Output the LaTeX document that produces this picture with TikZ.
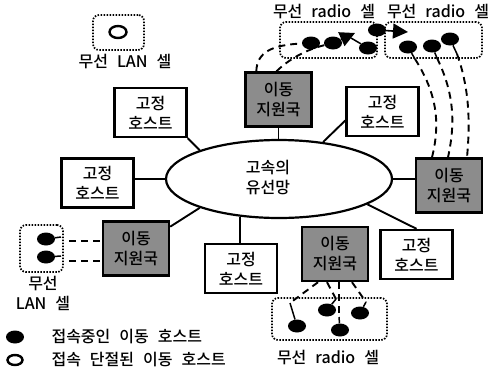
\documentclass[tikz,border=0pt]{standalone}
\usepackage{fontspec}
\setmainfont[WordSpace=2.5, BoldFont={Noto Sans CJK KR Medium}]{Noto Sans CJK KR}
\usetikzlibrary{arrows.meta, shapes.geometric, positioning}

\begin{document}
\begin{tikzpicture}[x=1pt, y=-1pt,
    every node/.style={font=\fontsize{16}{20}\selectfont\bfseries},
    fixed/.style={draw, line width=2.4pt, fill=white, align=center,
                  minimum width=72pt, minimum height=49pt, inner sep=2pt},
    mss/.style  ={draw, line width=2.4pt, fill=black!45, align=center,
                  minimum width=66pt, minimum height=54pt, inner sep=2pt},
    net/.style  ={draw, ellipse, line width=2.2pt, minimum width=226pt,
                  minimum height=78pt, inner sep=0pt},
    cell/.style ={draw, rounded corners=6pt, line width=1.7pt,
                  dash pattern=on 1.5pt off 1.5pt},
    mh/.style   ={ellipse, fill=black, minimum width=18pt, minimum height=13pt,
                  inner sep=0pt},
    offh/.style ={ellipse, draw, line width=2.4pt, minimum width=15pt,
                  minimum height=10pt, inner sep=0pt},
    wire/.style ={line width=1.9pt},
    ant/.style  ={line width=1.5pt},
    radio/.style={line width=1.9pt, dash pattern=on 7pt off 5pt},
    move/.style ={line width=1.6pt, -{Triangle[length=15pt, width=15pt]}},
]
\useasboundingbox (0,0) rectangle (492,370);

% wired backbone
\node[net]   (net)     at (279,179) {};
\node[align=center] (netText) at (268,177) {고속의\\유선망};
\node[fixed] (fhA) at (150.5,112.5) {고정\\호스트};
\node[fixed] (fhB) at (97.5,183)    {고정\\호스트};
\node[fixed] (fhC) at (382.5,111.5) {고정\\호스트};
\node[fixed] (fhD) at (241,268.5)   {고정\\호스트};
\node[fixed] (fhE) at (416.5,254.5) {고정\\호스트};
\node[mss]   (mssA) at (278.5,99.5) {이동\\지원국};
\node[mss]   (mssB) at (449,185.5)  {이동\\지원국};
\node[mss]   (mssC) at (136,248.5)  {이동\\지원국};
\node[mss]   (mssD) at (335,254)    {이동\\지원국};

\draw[wire] (net.160) -- (fhA.south east);
\draw[wire] (net.west) -- (net.west -| fhB.east);
\draw[wire] (net.200) -- (mssC);
\draw[wire] (net.224) -- (net.224 |- fhD.north);
\draw[wire] (net.40)  -- ([yshift=-9pt]fhC.west);
\draw[wire] (net.east) -- (net.east -| mssB.west);
\draw[wire] (net.-16) -- (fhE.north);
\draw[wire] (mssA.south) -- (mssA.south |- net.north);

% wireless LAN cells
\node[cell, minimum width=51pt, minimum height=35pt] (lanA) at (118.5,32.5) {};
\node[offh, minimum width=17pt, minimum height=12pt] (hOff) at (118,32) {};
\node (lanAText) at (125,62) {무선 LAN 셀};

\node[cell, minimum width=43pt, minimum height=47pt] (lanB) at (41.5,248.5) {};
\node[mh] (hl1) at (46,239) {};
\node[mh] (hl2) at (46,257) {};
\coordinate (tipL1) at (61,237);
\coordinate (tipL2) at (61,256);
\draw[ant] (hl1) -- (tipL1);
\draw[ant] (hl2) -- (tipL2);
\draw[radio, shorten <=8pt] (tipL1 |- 0,241) -- (mssC.west |- 0,241);
\draw[radio, shorten <=8pt] (tipL2 |- 0,261) -- (mssC.west |- 0,261);
\node[align=center] (lanBText) at (43,293) {무선\\LAN 셀};

% radio cells on top
\node[cell, minimum width=97pt, minimum height=36pt] (radA) at (328.5,40) {};
\node[cell, minimum width=97pt, minimum height=36pt] (radB) at (433.5,40) {};
\node (radAText) at (324,12) {무선 radio 셀};
\node (radBText) at (438,12) {무선 radio 셀};

\node[mh] (ha) at (311,43) {};
\node[mh] (hb) at (333,43) {};
\node[mh] (hc) at (368,48) {};
\node[mh] (hd) at (377,30) {};
\node[mh] (he) at (408,47) {};
\node[mh] (hf) at (432,46) {};
\node[mh] (hg) at (450,39) {};
\coordinate (mvA) at (355,33);
\coordinate (mvB) at (408,32);
\coordinate (tipC) at (351,38);
\coordinate (tipE) at (415,59);
\coordinate (tipF) at (437,58);
\coordinate (tipG) at (457,54);
\draw[move] (hb) -- (mvA);
\draw[move] (hd) -- (mvB);
\draw[ant] (hc) -- (tipC);
\draw[ant] (he) -- (tipE);
\draw[ant] (hf) -- (tipF);
\draw[ant] (hg) -- (tipG);

\draw[radio] ([xshift=12pt]mssA.north west) .. controls (257,52) and (272,45) .. (ha);
\draw[radio] ([xshift=-2pt]mssA.north) .. controls (288,60) and (305,50) .. (hb);
\draw[radio] (tipE) .. controls (438,95) and (440,125) .. ([xshift=-17pt]mssB.north);
\draw[radio] (tipF) .. controls (455,95) and (455,125) .. ([xshift=-1pt]mssB.north);
\draw[radio] (tipG) .. controls (470,90) and (470,125) .. ([xshift=18pt]mssB.north);

% radio cell below
\node[cell, minimum width=115pt, minimum height=42pt] (radC) at (329.5,319) {};
\node (radCText) at (328,357) {무선 radio 셀};
\node[mh] (h1) at (297,326) {};
\node[mh] (h2) at (327,310) {};
\node[mh] (h3) at (340,330) {};
\node[mh] (h4) at (360,313) {};
\coordinate (tip1) at (290,303);
\coordinate (tip2) at (336,299);
\coordinate (tip3) at (339,317);
\coordinate (tip4) at (366,302);
\draw[ant] (h1) -- (tip1);
\draw[ant] (h2) -- (tip2);
\draw[ant] (h3) -- (tip3);
\draw[ant] (h4) -- (tip4);
\draw[radio] ([xshift=-17pt]mssD.south) -- (tip1);
\draw[radio] ([xshift=-8pt]mssD.south)  -- (tip2);
\draw[radio] (tip3 |- mssD.south)       -- (tip3);
\draw[radio] ([xshift=17pt]mssD.south)  -- (tip4);

% legend
\node[mh]   (lgOn)  at (15,337) {};
\node[offh] (lgOff) at (15,360) {};
\node[anchor=west] (lgOnText)  at (48,337) {접속중인 이동 호스트};
\node[anchor=west] (lgOffText) at (48,360) {접속 단절된 이동 호스트};
\end{tikzpicture}
\end{document}
